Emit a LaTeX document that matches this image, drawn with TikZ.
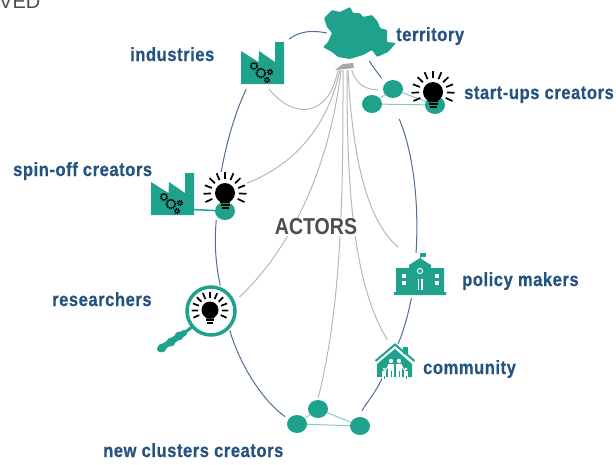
\documentclass[tikz,border=0pt]{standalone}
\usepackage{fontspec}
\usetikzlibrary{positioning}
\usetikzlibrary{shapes.geometric}
\setmainfont{Liberation Sans}
\newfontfamily\labelfont[FakeStretch=0.86,LetterSpace=3,BoldFeatures={FakeStretch=0.86,LetterSpace=3,FakeBold=0.6}]{Liberation Sans}
\newfontfamily\titlefont[FakeStretch=0.85,BoldFeatures={FakeStretch=0.85}]{Liberation Sans}
\definecolor{tealicon}{HTML}{1FA28C}
\definecolor{labelblue}{HTML}{25537F}
\definecolor{arcblue}{HTML}{4F6D98}
\definecolor{linegrey}{HTML}{B8B8B2}
\definecolor{actorgrey}{HTML}{4D4D4D}

\tikzset{
  factory/.pic={
    \fill[tealicon] (-21.5,-12) -- (-4,-1) -- (-3.5,-12) -- (12.5,-1) -- (12.5,-21) -- (21.5,-21) -- (21.5,21) -- (-21.5,21) -- cycle;
    \foreach \gx/\gy/\gr in {-8.5/3/2.8, -1.5/10/4, 7.5/9/1.8, 4.5/17/1.8} {
      \draw[black, line width=0.7pt] (\gx,\gy) circle (\gr pt);
      \draw[black, line width=1.3pt, dash pattern=on 1pt off 1pt] (\gx,\gy) circle (\gr pt + 0.8pt);
    }
  },
  bulb/.pic={
    \fill[black] (0,0) circle (10pt);
    \fill[black] (-6.5,6) -- (6.5,6) -- (4.5,10) -- (-4.5,10) -- cycle;
    \fill[black] (-4.5,11) rectangle (4.5,13);
    \fill[black] (-3.5,14) rectangle (3.5,16);
    \foreach \a in {-25,-2,...,205} {
      \draw[black, line width=1.7pt] (\a:14pt) -- (\a:21.5pt);
    }
  },
}

\begin{document}
\begin{tikzpicture}[
            x=1pt, y=-1pt,
            hidebox/.style={rectangle, inner sep=0pt, outer sep=0pt},
            hidecircle/.style={circle, inner sep=0pt, outer sep=0pt, minimum size=54pt},
            tealdot/.style={ellipse, fill=tealicon, inner sep=0pt, minimum width=20pt, minimum height=18pt},
            actorlabel/.style={anchor=base west, text=labelblue, inner sep=0pt, font=\labelfont\bfseries\fontsize{19.2}{20}\selectfont},
            arcline/.style={draw=arcblue, line width=1pt},
            greyline/.style={draw=linegrey, line width=1pt},
            tealline/.style={draw=tealicon!55, line width=1pt},
            ]
            \useasboundingbox (0,0) rectangle (616,464);

            % anchors round the icons
            \node[hidebox, minimum width=56pt, minimum height=56pt] (territory) at (355,33) {};
            \node[hidebox, minimum width=20pt, minimum height=6pt] (hub) at (344,67) {};
            \node[hidebox, minimum width=53pt, minimum height=52pt] (factA) at (262.5,63) {};
            \node[hidebox, minimum width=43pt, minimum height=42pt] (factB) at (172.5,194) {};
            \node[hidebox, minimum width=44pt, minimum height=48pt] (spinoff) at (225,196) {};
            \node[hidecircle] (researcher) at (211,311) {};
            \node[hidebox, minimum width=44pt, minimum height=41pt] (startups) at (400,98.5) {};
            \node[hidebox, minimum width=52pt, minimum height=45pt] (school) at (420,275.5) {};
            \node[hidebox, minimum width=42pt, minimum height=34pt] (home) at (395,361) {};

            \node[tealdot] (su1) at (393,89) {};
            \node[tealdot] (su2) at (372,104) {};
            \node[tealdot] (su3) at (435,105) {};
            \node[tealdot] (sp1) at (225,211) {};
            \node[tealdot] (cl1) at (318,409) {};
            \node[tealdot] (cl2) at (297,424) {};
            \node[tealdot] (cl3) at (360,426) {};

            % grey lines from the hub
            \draw[greyline] (hub.-153) .. controls (328,120) and (292,118) .. (factA.-76);
            \draw[greyline] (hub.-143) .. controls (330,115) and (305,160) .. (spinoff.30.6);
            \draw[greyline, shorten >=5pt] (hub.-135) .. controls (332,150) and (300,240) .. (researcher.23.4);
            \draw[greyline, shorten >=2pt] (hub.-108) .. controls (343,180) and (343,300) .. (cl1.92);
            \draw[greyline, shorten >=5pt] (hub.-45) .. controls (347,170) and (350,280) .. (home.106.4);
            \draw[greyline, shorten >=9pt] (hub.-37) .. controls (352,150) and (365,220) .. (school.123.7);
            \draw[greyline] (hub.-21) .. controls (355,82) and (364,90) .. (startups.158.9);

            % blue ring
            \draw[arcline] (factA.42) .. controls (300,31) and (312,30) .. (territory.180);
            \draw[arcline] (territory.-63.4) .. controls (373,67) and (377,72) .. (startups.132.8);
            \draw[arcline] (factA.-122.4) .. controls (234,115) and (226,145) .. (spinoff.99.5);
            \draw[arcline] (spinoff.-110.6) .. controls (214,245) and (216,265) .. (researcher.70);
            \draw[arcline, shorten >=4pt] (researcher.-46.5) .. controls (240,365) and (262,400) .. (cl2.150);
            \draw[arcline, shorten <=7pt] (cl3.100) .. controls (367,402) and (376,392) .. (home.-127.4);
            \draw[arcline] (home.80) .. controls (404,330) and (408,315) .. (school.-111.8);
            \draw[arcline] (startups.-92.8) .. controls (414,155) and (419,205) .. (school.100);

            % teal links
            \draw[tealline] (su1) -- (su2);
            \draw[tealline] (su2) -- (su3);
            \draw[tealline] (su1) -- (su3);
            \draw[tealline] (cl1) -- (cl2);
            \draw[tealline] (cl2) -- (cl3);
            \draw[tealline] (cl1) -- (cl3);
            \draw[tealicon, line width=1.5pt] (factB.-36.7) -- (sp1);

            % icons
            \fill[tealicon, rounded corners=1pt] (324,18) -- (327,15) -- (332,10) -- (340,12) -- (350,7) -- (353,13) -- (360,13) -- (363,17) -- (372,15) -- (378,22) -- (380,28) -- (387,30) -- (387,42) -- (396,43) -- (388,52) -- (377,57) -- (372,50) -- (363,55) -- (350,59) -- (338,57) -- (332,52) -- (323,47) -- (328,42) -- (332,33) -- (327,27) -- cycle;
            \fill[gray!70] (335,70) -- (343,64) -- (353,63) -- (354,68) -- cycle;
            \pic at (factA) {factory};
            \pic at (factB) {factory};
            \pic at (225,193) {bulb};
            \pic at (433,92) {bulb};

            \draw[tealicon, line width=3.5pt, fill=white] (researcher) circle (24pt);
            \pic[scale=0.85] at (210,310) {bulb};
            \draw[tealicon, line width=3pt] (192,327) -- (184,333);
            \draw[tealicon, line width=6pt, line cap=round] (184,333) -- (160,349);
            \foreach \hx/\hy in {179/336, 171/342, 162/348} {
              \fill[tealicon] (\hx,\hy) circle (4.4pt);
            }

            % school
            \fill[tealicon] (396,268) -- (409,268) -- (409,265) -- (420,258) -- (431,265) -- (431,268) -- (444,268) -- (444,292) -- (446,292) -- (446,295) -- (394,295) -- (394,292) -- (396,292) -- cycle;
            \draw[tealicon, line width=0.8pt] (420,258) -- (420,253);
            \fill[tealicon] (420,253) rectangle (426,257);
            \foreach \wx/\wy in {404/276, 404/283, 437/276, 437/283} {
              \fill[white] (\wx-2,\wy-2) rectangle (\wx+2,\wy+2);
            }
            \draw[white, line width=1pt] (420,271) circle (2.6pt);
            \fill[white] (417.5,279) rectangle (419.2,290);
            \fill[white] (421,279) rectangle (422.7,290);

            % house
            \fill[tealicon] (403,347) rectangle (408,354);
            \draw[tealicon, line width=2pt] (375.5,361) -- (395,344.5) -- (414.5,361);
            \fill[tealicon] (377,364) -- (395,349) -- (412,364) -- (412,377) -- (377,377) -- cycle;
            \foreach \px/\py/\ps in {391/361/1, 399/361/1, 384/369/0.65, 406/369/0.65} {
              \fill[white] (\px,\py) circle (\ps*2.2pt);
              \fill[white] (\px-\ps*3,\py+\ps*3) rectangle (\px+\ps*3,\py+\ps*16);
              \draw[tealicon, line width=0.5pt] (\px,\py+\ps*10) -- (\px,\py+\ps*16);
            }
            \draw[white, line width=1pt] (385,371) -- (389,365) (401,365) -- (405,371);

            % labels
            \node[actorlabel] (territorytext) at (396,41) {territory};
            \node[actorlabel] (industriestext) at (130,61) {industries};
            \node[actorlabel] (startupstext) at (464,99) {start-ups creators};
            \node[actorlabel] (spinofftext) at (13,176) {spin-off creators};
            \node[actorlabel] (policytext) at (462,286) {policy makers};
            \node[actorlabel] (researcherstext) at (52,306) {researchers};
            \node[actorlabel] (communitytext) at (423,374) {community};
            \node[actorlabel] (clusterstext) at (103,457) {new clusters creators};
            \node[fill=white, inner sep=0.5pt, text=actorgrey, font=\titlefont\bfseries\fontsize{23}{25}\selectfont] (actors) at (316,227) {ACTORS};
            \node[anchor=base west, inner sep=0pt, text=actorgrey, font=\fontsize{20}{22}\selectfont] (topword) at (-1,8) {VED};
\end{tikzpicture}
\end{document}
